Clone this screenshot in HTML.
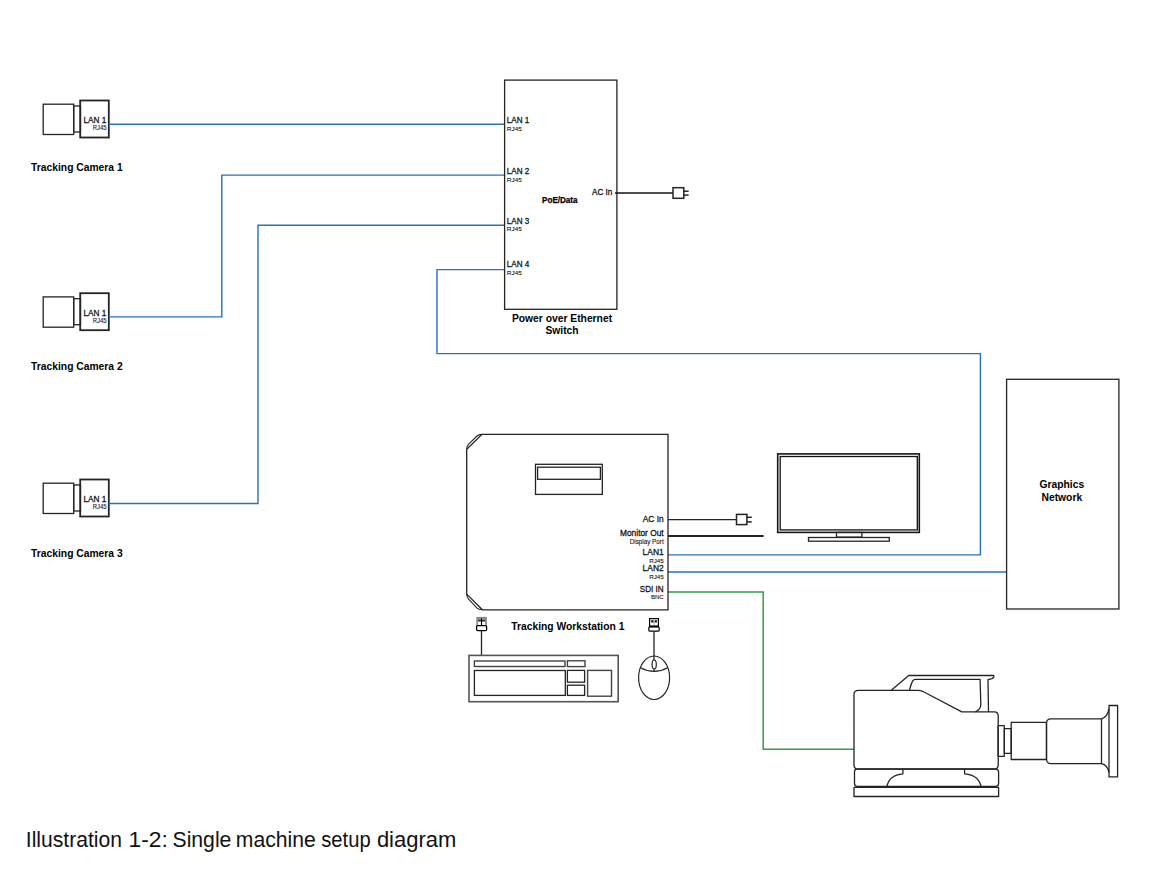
<!DOCTYPE html>
<html><head><meta charset="utf-8">
<style>
html,body{margin:0;padding:0;background:#fff;}
body{width:1176px;height:890px;overflow:hidden;}
svg{position:absolute;left:0;top:0;font-family:"Liberation Sans",sans-serif;}
.k{fill:none;stroke:#262324;stroke-width:1.3;}
.b{fill:none;stroke:#2a71b8;stroke-width:1.4;}
.g{fill:none;stroke:#2f9f4c;stroke-width:1.5;}
.t{fill:#111;stroke:#111;stroke-width:0.28;}
.ts{fill:#111;stroke:#111;stroke-width:0.1;}
.bd{font-weight:bold;fill:#000;}
</style></head>
<body>
<svg width="1176" height="890" viewBox="0 0 1176 890">
<!-- CAMERAS -->
<g id="cam1">
  <rect class="k" x="43.2" y="104.2" width="30.5" height="30.3"/>
  <rect class="k" x="73.7" y="106" width="6.8" height="26"/>
  <rect class="k" x="80.2" y="100.5" width="28.6" height="37" style="stroke-width:1.8"/>
  <text class="t" x="83.5" y="122.9" font-size="9.4" textLength="22.9" lengthAdjust="spacingAndGlyphs">LAN 1</text>
  <text class="ts" x="106.5" y="129.9" font-size="6.4" text-anchor="end" textLength="13.7" lengthAdjust="spacingAndGlyphs">RJ45</text>
</g>
<g transform="translate(0,192.7)">
  <rect class="k" x="43.2" y="104.2" width="30.5" height="30.3"/>
  <rect class="k" x="73.7" y="106" width="6.8" height="26"/>
  <rect class="k" x="80.2" y="100.5" width="28.6" height="37" style="stroke-width:1.8"/>
  <text class="t" x="83.5" y="122.9" font-size="9.4" textLength="22.9" lengthAdjust="spacingAndGlyphs">LAN 1</text>
  <text class="ts" x="106.5" y="129.9" font-size="6.4" text-anchor="end" textLength="13.7" lengthAdjust="spacingAndGlyphs">RJ45</text>
</g>
<g transform="translate(0,379)">
  <rect class="k" x="43.2" y="104.2" width="30.5" height="30.3"/>
  <rect class="k" x="73.7" y="106" width="6.8" height="26"/>
  <rect class="k" x="80.2" y="100.5" width="28.6" height="37" style="stroke-width:1.8"/>
  <text class="t" x="83.5" y="122.9" font-size="9.4" textLength="22.9" lengthAdjust="spacingAndGlyphs">LAN 1</text>
  <text class="ts" x="106.5" y="129.9" font-size="6.4" text-anchor="end" textLength="13.7" lengthAdjust="spacingAndGlyphs">RJ45</text>
</g>
<text class="bd" x="31.1" y="170.7" font-size="10.3">Tracking Camera 1</text>
<text class="bd" x="31.1" y="369.8" font-size="10.3">Tracking Camera 2</text>
<text class="bd" x="31.1" y="556.8" font-size="10.3">Tracking Camera 3</text>

<!-- CABLES -->
<polyline class="b" points="108.8,124.3 504.6,124.3"/>
<polyline class="b" points="108.8,316.9 221.8,316.9 221.8,175.1 504.6,175.1"/>
<polyline class="b" points="108.8,503.5 258,503.5 258,225.3 504.6,225.3"/>
<polyline class="b" points="504.6,269.6 437,269.6 437,353.6 980.4,353.6 980.4,554.9 668,554.9"/>
<polyline class="b" points="668,572 1006.8,572"/>
<polyline class="g" points="668,591.9 763.2,591.9 763.2,749.2 854,749.2"/>

<!-- POE SWITCH -->
<rect class="k" x="504.6" y="80.1" width="112.3" height="229.2"/>
<text class="t" x="506.8" y="122.9" font-size="9" textLength="22.5" lengthAdjust="spacingAndGlyphs">LAN 1</text>
<text class="ts" x="506.8" y="130.7" font-size="6" textLength="15" lengthAdjust="spacingAndGlyphs">RJ45</text>
<text class="t" x="506.8" y="173.9" font-size="9" textLength="22.5" lengthAdjust="spacingAndGlyphs">LAN 2</text>
<text class="ts" x="506.8" y="181.8" font-size="6" textLength="15" lengthAdjust="spacingAndGlyphs">RJ45</text>
<text class="t" x="506.8" y="223.9" font-size="9" textLength="22.5" lengthAdjust="spacingAndGlyphs">LAN 3</text>
<text class="ts" x="506.8" y="230.8" font-size="6" textLength="15" lengthAdjust="spacingAndGlyphs">RJ45</text>
<text class="t" x="506.8" y="267" font-size="9" textLength="22.5" lengthAdjust="spacingAndGlyphs">LAN 4</text>
<text class="ts" x="506.8" y="275" font-size="6" textLength="15" lengthAdjust="spacingAndGlyphs">RJ45</text>
<text class="bd" x="542.1" y="202.6" font-size="8.6" stroke="#000" stroke-width="0.25" textLength="35.4" lengthAdjust="spacingAndGlyphs">PoE/Data</text>
<text class="t" x="612.4" y="194.8" font-size="8.9" text-anchor="end" textLength="20.4" lengthAdjust="spacingAndGlyphs">AC In</text>
<line class="k" x1="615" y1="193" x2="673" y2="193" style="stroke-width:1.5;stroke:#111"/>
<rect class="k" x="673" y="187.7" width="10.8" height="10.6" style="stroke-width:1.5"/>
<line class="k" x1="683.8" y1="191.2" x2="688.6" y2="191.2" style="stroke-width:1.5"/>
<line class="k" x1="683.8" y1="195.1" x2="688.6" y2="195.1" style="stroke-width:1.5"/>
<text class="bd" x="562" y="321.8" font-size="10.3" text-anchor="middle">Power over Ethernet</text>
<text class="bd" x="562" y="333.9" font-size="10.3" text-anchor="middle">Switch</text>

<!-- WORKSTATION -->
<path class="k" d="M482,434.4 L668,434.4 L668,609.8 L482.4,609.8 L466.7,594.1 L466.7,449.3 Z"/>
<path class="k" d="M466.7,449.3 Q466.9,445.8 468.6,444.2 L477,436 Q478.6,434.5 482,434.4" style="stroke-width:1.1"/>
<path class="k" d="M466.7,594.1 Q466.9,597.6 468.6,599.2 L477,608.2 Q478.6,609.7 482.4,609.8" style="stroke-width:1.1"/>
<rect class="k" x="535.5" y="464.3" width="66.8" height="30.1"/>
<rect class="k" x="537.6" y="467.2" width="62.8" height="12.1"/>
<text class="t" x="663.7" y="521.9" font-size="9.2" text-anchor="end" textLength="21" lengthAdjust="spacingAndGlyphs">AC In</text>
<text class="t" x="663.7" y="535.8" font-size="9.2" text-anchor="end" textLength="43.7" lengthAdjust="spacingAndGlyphs">Monitor Out</text>
<text class="ts" x="663.7" y="544.1" font-size="6.4" text-anchor="end" textLength="34" lengthAdjust="spacingAndGlyphs">Display Port</text>
<text class="t" x="663.7" y="555" font-size="9.2" text-anchor="end" textLength="21.1" lengthAdjust="spacingAndGlyphs">LAN1</text>
<text class="ts" x="663.7" y="562.8" font-size="6.2" text-anchor="end" textLength="14.5" lengthAdjust="spacingAndGlyphs">RJ45</text>
<text class="t" x="663.7" y="571.1" font-size="9.2" text-anchor="end" textLength="21.1" lengthAdjust="spacingAndGlyphs">LAN2</text>
<text class="ts" x="663.7" y="578.7" font-size="6.2" text-anchor="end" textLength="14.5" lengthAdjust="spacingAndGlyphs">RJ45</text>
<text class="t" x="663.7" y="592.1" font-size="9.2" text-anchor="end" textLength="23.9" lengthAdjust="spacingAndGlyphs">SDI IN</text>
<text class="ts" x="663.7" y="598.9" font-size="6" text-anchor="end" textLength="12.7" lengthAdjust="spacingAndGlyphs">BNC</text>
<line class="k" x1="668" y1="519.6" x2="736.5" y2="519.6"/>
<rect class="k" x="736.5" y="514.4" width="10.4" height="10.2" style="stroke-width:1.5"/>
<line class="k" x1="746.9" y1="517.3" x2="751.8" y2="517.3" style="stroke-width:1.5"/>
<line class="k" x1="746.9" y1="521.9" x2="751.8" y2="521.9" style="stroke-width:1.5"/>
<line class="k" x1="668" y1="535.9" x2="763.6" y2="535.9" style="stroke-width:2"/>
<text class="bd" x="511.3" y="629.9" font-size="10.3">Tracking Workstation 1</text>

<!-- USB keyboard -->
<rect x="476.3" y="616.9" width="10.6" height="8.4" fill="#8a8a8a"/>
<rect x="478" y="621.5" width="2.8" height="3.8" fill="#fff"/>
<rect x="482.3" y="621.5" width="2.8" height="3.8" fill="#fff"/>
<line x1="481.5" y1="618.4" x2="481.5" y2="625.3" stroke="#000" stroke-width="1"/>
<line x1="478" y1="620.8" x2="485" y2="620.8" stroke="#111" stroke-width="1"/>
<rect class="k" x="476.6" y="625.6" width="10" height="5" rx="1" style="stroke-width:1.3;stroke:#000"/>
<line class="k" x1="481.5" y1="630.6" x2="481.5" y2="655.5"/>
<!-- Keyboard -->
<rect class="k" x="469" y="655.4" width="149.2" height="46.3" style="stroke:#555;stroke-width:1.6"/>
<rect class="k" x="474.4" y="661" width="90.6" height="5.5" style="stroke:#444;stroke-width:1.4"/>
<rect class="k" x="567.4" y="660.8" width="17.6" height="5.8" style="stroke:#444;stroke-width:1.4"/>
<rect class="k" x="474.4" y="670.5" width="90.9" height="24.9"/>
<rect class="k" x="567.4" y="670.4" width="17.2" height="11.8"/>
<rect class="k" x="567.4" y="685.2" width="17.2" height="10.2"/>
<rect class="k" x="587.6" y="670.4" width="23.9" height="25.8" style="stroke:#444;stroke-width:1.4"/>
<!-- USB mouse -->
<rect class="k" x="649.6" y="618.6" width="8.8" height="7.6" style="stroke:#000;stroke-width:1.2"/>
<rect x="651.2" y="620.2" width="2.3" height="2.3" fill="#111"/>
<rect x="654.6" y="620.2" width="2.3" height="2.3" fill="#111"/>
<line x1="654" y1="619.2" x2="654" y2="626" stroke="#999" stroke-width="0.8"/>
<line x1="649.6" y1="626.4" x2="658.4" y2="626.4" stroke="#000" stroke-width="1.4"/>
<rect class="k" x="648.8" y="626.8" width="10.4" height="4.4" rx="1.3" style="stroke:#000;stroke-width:1.2"/>
<line class="k" x1="654" y1="631.4" x2="654" y2="660.2"/>
<line class="k" x1="654.1" y1="668.8" x2="654.1" y2="671.5"/>
<!-- Mouse -->
<ellipse class="k" cx="654.1" cy="677.75" rx="15.5" ry="21.75" style="stroke-width:1.2"/>
<path class="k" d="M640.6,667.7 Q654.1,675.2 667.6,667.7" style="stroke-width:1.2"/>
<ellipse class="k" cx="654.2" cy="664.5" rx="2.1" ry="4.5" style="stroke-width:1.2"/>

<!-- MONITOR -->
<rect class="k" stroke="#111" x="777.7" y="453.9" width="141.6" height="78.5" style="stroke-width:1.6;stroke:#151515"/>
<rect class="k" stroke="#111" x="780.2" y="456.5" width="137.1" height="73.4" style="stroke-width:1.3;stroke:#111"/>
<rect class="k" stroke="#111" x="836.5" y="532.4" width="25.4" height="4.7"/>
<rect class="k" stroke="#111" x="808.5" y="537.5" width="80.8" height="3.7"/>

<!-- GRAPHICS NETWORK -->
<rect class="k" x="1006.6" y="379.3" width="112.3" height="229.7"/>
<text class="bd" x="1061.8" y="487.7" font-size="10.3" text-anchor="middle">Graphics</text>
<text class="bd" x="1061.8" y="500.8" font-size="10.3" text-anchor="middle">Network</text>

<!-- BROADCAST CAMERA -->
<g class="k" style="stroke-width:1.3;stroke-linejoin:round">
  <path d="M854,694.3 Q854,690.4 858.5,690.4 L918.9,690.4 Q921,690.5 924,692 L961.8,711.9 L994.4,711.9 Q998.2,712 998.2,716 L998.2,765 Q998.2,769 994.2,769 L858,769 Q854,769 854,765 Z"/>
  <path d="M891,690.4 L908.7,675.5 L993.7,675.5 Q994.5,677.6 992,678.6 L988,679.7 L988.5,711.9"/>
  <path d="M909.4,690.4 Q911.5,682.5 913,680.5 Q913.8,679.3 916,679.3 L980.1,679.3 L980.8,704.5 Q980.6,709.6 975.4,711.9"/>
  <path d="M854.5,771.5 Q854.5,769.2 857,769.2 L995.5,769.2 Q998.6,769.3 998.6,772 L998.6,783.5 Q998.6,786.4 995.5,786.4 L857.5,786.4 Q854.5,786.4 854.5,783.5 Z"/>
  <path d="M902.9,769.2 L902.9,773.8 Q889,775 887,786.4"/>
  <path d="M964.6,769.2 L964.6,773.8 Q979,775 980.9,786.4"/>
  <rect x="854" y="787.4" width="144.6" height="9.1"/>
  <rect x="998.1" y="725.7" width="6.2" height="30.6"/>
  <rect x="1004.3" y="728.7" width="6.9" height="24.6"/>
  <rect x="1011.2" y="722.4" width="35.3" height="37.1"/>
  <path d="M1046.5,759.5 L1046.5,722.8 Q1046.8,718.8 1051,718.8 L1101.5,718.8 L1101.5,763.7 L1051,763.7 Q1046.8,763.7 1046.5,759.5"/>
  <path d="M1101.5,718.8 Q1107.5,717.5 1109,708.7"/>
  <path d="M1101.5,763.7 Q1107.5,765 1109,772.4"/>
  <rect x="1109" y="705.5" width="8.6" height="71.4"/>
</g>

<!-- CAPTION -->
<g font-size="21.7" fill="#111">
<text x="25.80" y="846.8" textLength="96.10" lengthAdjust="spacingAndGlyphs">Illustration</text>
<text x="128.50" y="846.8" textLength="39.40" lengthAdjust="spacingAndGlyphs">1-2:</text>
<text x="172.50" y="846.8" textLength="58.90" lengthAdjust="spacingAndGlyphs">Single</text>
<text x="235.80" y="846.8" textLength="79.90" lengthAdjust="spacingAndGlyphs">machine</text>
<text x="321.30" y="846.8" textLength="49.30" lengthAdjust="spacingAndGlyphs">setup</text>
<text x="376.90" y="846.8" textLength="79.40" lengthAdjust="spacingAndGlyphs">diagram</text>
</g>
</svg>
</body></html>
